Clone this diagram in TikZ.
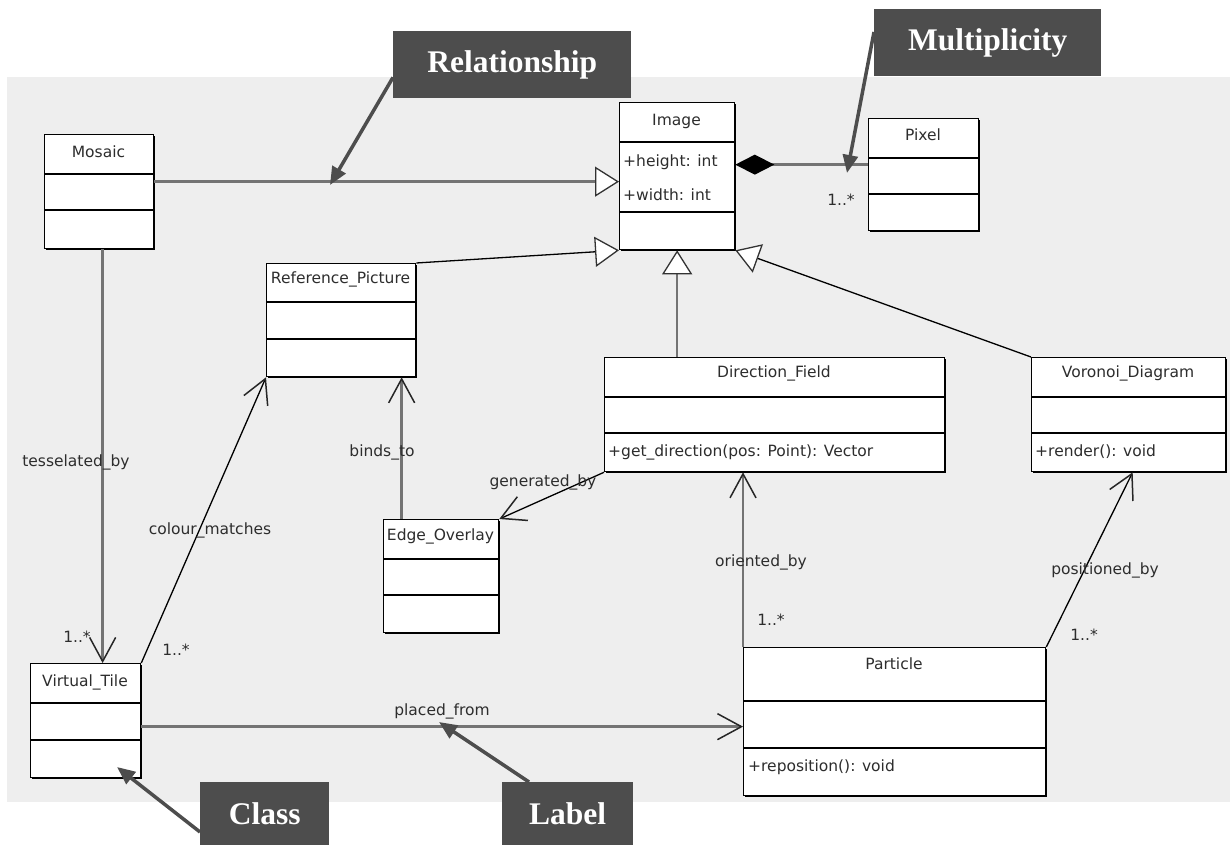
\documentclass[tikz,border=0pt]{standalone}
\usepackage{fontspec}
\setmainfont{Liberation Serif}
\newfontfamily\umlfont{DejaVu Sans}
\usetikzlibrary{arrows.meta,calc,shadows}

\definecolor{canvas}{RGB}{238,238,238}
\definecolor{callout}{RGB}{77,77,77}
\definecolor{umltext}{RGB}{45,45,45}
\definecolor{assoc}{RGB}{115,115,115}

\tikzset{
  umlbox/.style={draw, line width=1.3pt, fill=white, anchor=north west, inner sep=0pt,
    general shadow={fill=black, shadow xshift=1.6pt, shadow yshift=-1.6pt}},
  umlname/.style={font=\umlfont\fontsize{15.5}{18}\selectfont, text=umltext, inner sep=0pt},
  umlmember/.style={umlname, anchor=west},
  rule/.style={line width=1.1pt},
  straightline/.style={draw=assoc, line width=2.6pt},
  slantline/.style={draw=black, line width=1.3pt},
  generalise/.style={-{Triangle[length=24pt,width=30pt,fill=white,color=black!80,line width=1.3pt]}},
  navigable/.style={-{Straight Barb[length=24pt,width=26pt,color=black!85,line width=1.5pt]}},
  composed/.style={{Diamond[length=39pt,width=20pt,fill=black,color=black]}-},
  callbox/.style={fill=callout, text=white, anchor=north west, inner sep=0pt,
    font=\bfseries\fontsize{31.5}{36}\selectfont},
  callarrow/.style={draw=callout, line width=3.5pt, -{Triangle[length=18pt,width=15pt]}},
}

\begin{document}
\begin{tikzpicture}[x=1pt,y=-1pt]
  \useasboundingbox (0,0) rectangle (1230,845);
  % grey drawing area
  \fill[canvas] (7,77) rectangle (1230,802);

  % class boxes
  \node[umlbox, minimum width=109pt, minimum height=114pt] (mosaic) at (44,134) {};
  \draw[rule] ($(mosaic.north west)+(0,40)$) -- ($(mosaic.north east)+(0,40)$);
  \draw[rule] ($(mosaic.north west)+(0,76)$) -- ($(mosaic.north east)+(0,76)$);
  \node[umlname] (mosaic-t) at (98.5,152) {Mosaic};

  \node[umlbox, minimum width=115pt, minimum height=147pt] (img) at (619,102) {};
  \draw[rule] ($(img.north west)+(0,40)$) -- ($(img.north east)+(0,40)$);
  \draw[rule] ($(img.north west)+(0,110)$) -- ($(img.north east)+(0,110)$);
  \node[umlname] (img-t) at (676.5,121) {Image};
  \node[umlmember] (img-a1) at (623,162) {+height: int};
  \node[umlmember] (img-a2) at (623,195) {+width: int};

  \node[umlbox, minimum width=110pt, minimum height=112pt] (pixel) at (868,118) {};
  \draw[rule] ($(pixel.north west)+(0,40)$) -- ($(pixel.north east)+(0,40)$);
  \draw[rule] ($(pixel.north west)+(0,76)$) -- ($(pixel.north east)+(0,76)$);
  \node[umlname] (pixel-t) at (923,135) {Pixel};

  \node[umlbox, minimum width=149pt, minimum height=113pt] (rp) at (266,263) {};
  \draw[rule] ($(rp.north west)+(0,39)$) -- ($(rp.north east)+(0,39)$);
  \draw[rule] ($(rp.north west)+(0,76)$) -- ($(rp.north east)+(0,76)$);
  \node[umlname] (rp-t) at (340.5,279) {Reference\_Picture};

  \node[umlbox, minimum width=340pt, minimum height=114pt] (df) at (604,357) {};
  \draw[rule] ($(df.north west)+(0,40)$) -- ($(df.north east)+(0,40)$);
  \draw[rule] ($(df.north west)+(0,76)$) -- ($(df.north east)+(0,76)$);
  \node[umlname] (df-t) at (774,373) {Direction\_Field};
  \node[umlmember] (df-o1) at (608,452) {+get\_direction(pos: Point): Vector};

  \node[umlbox, minimum width=194pt, minimum height=114pt] (vor) at (1031,357) {};
  \draw[rule] ($(vor.north west)+(0,40)$) -- ($(vor.north east)+(0,40)$);
  \draw[rule] ($(vor.north west)+(0,76)$) -- ($(vor.north east)+(0,76)$);
  \node[umlname] (vor-t) at (1128,373) {Voronoi\_Diagram};
  \node[umlmember] (vor-o1) at (1035,452) {+render(): void};

  \node[umlbox, minimum width=115pt, minimum height=113pt] (eo) at (383,519) {};
  \draw[rule] ($(eo.north west)+(0,40)$) -- ($(eo.north east)+(0,40)$);
  \draw[rule] ($(eo.north west)+(0,76)$) -- ($(eo.north east)+(0,76)$);
  \node[umlname] (eo-t) at (440.5,536) {Edge\_Overlay};

  \node[umlbox, minimum width=110pt, minimum height=114pt] (vt) at (30,663) {};
  \draw[rule] ($(vt.north west)+(0,40)$) -- ($(vt.north east)+(0,40)$);
  \draw[rule] ($(vt.north west)+(0,77)$) -- ($(vt.north east)+(0,77)$);
  \node[umlname] (vt-t) at (85,682) {Virtual\_Tile};

  \node[umlbox, minimum width=302pt, minimum height=148pt] (part) at (743,647) {};
  \draw[rule] ($(part.north west)+(0,54)$) -- ($(part.north east)+(0,54)$);
  \draw[rule] ($(part.north west)+(0,101)$) -- ($(part.north east)+(0,101)$);
  \node[umlname] (part-t) at (894,664) {Particle};
  \node[umlmember] (part-o1) at (748,767) {+reposition(): void};

  % generalisations
  \draw[straightline, generalise] ($(mosaic.east)+(0,-10)$) -- ($(img.west |- mosaic.east)+(0,-10)$);
  \draw[slantline, generalise] (rp.north east) -- (img.south west);
  \draw[straightline, generalise] (df.north -| img.south) -- (img.south);
  \draw[slantline, generalise] (vor.north west) -- (img.south east);

  % composition
  \draw[straightline, composed] ($(img.east)+(0,-11.5)$) -- ($(img.east -| pixel.west)+(0,-11.5)$);
  \node[umlname] (pixel-m) at (841,200) {1..*};

  % associations
  \draw[straightline, navigable] ($(mosaic.south)+(3.5,0)$) -- ($(mosaic.south |- vt.north)+(3.5,0)$);
  \node[umlname] (tess-l) at (76,462) {tesselated\_by};
  \node[umlname] (tess-m) at (77,637) {1..*};

  \draw[slantline, navigable] (vt.north east) -- (rp.south west);
  \node[umlname] (colour-l) at (210,530) {colour\_matches};
  \node[umlname] (colour-m) at (176,650) {1..*};

  \draw[straightline, navigable] ($(eo.north)+(-39.5,0)$) -- ($(eo.north |- rp.south)+(-39.5,0)$);
  \node[umlname] (binds-l) at (382,452) {binds\_to};

  \draw[slantline, navigable] (df.south west) -- (eo.north east);
  \node[umlname] (gen-l) at (543,482) {generated\_by};

  \draw[straightline, navigable] (part.north west) -- (part.north west |- df.south);
  \node[umlname] (orient-l) at (761,562) {oriented\_by};
  \node[umlname] (orient-m) at (771,620) {1..*};

  \draw[slantline, navigable] (part.north east) -- ($(vor.south)+(4,0)$);
  \node[umlname] (pos-l) at (1105,570) {positioned\_by};
  \node[umlname] (pos-m) at (1084,635) {1..*};

  \draw[straightline, navigable] ($(vt.east)+(0,6)$) -- ($(vt.east -| part.west)+(0,6)$);
  \node[umlname] (placed-l) at (442,711) {placed\_from};

  % callouts
  \node[callbox, minimum width=238pt, minimum height=67pt] (rel) at (393,31) {Relationship};
  \coordinate (rel-tip) at (330,185);
  \draw[callarrow] ($(rel.south west)+(0,-21)$) -- (rel-tip);

  \node[callbox, minimum width=227pt, minimum height=67pt] (mult) at (874,9) {Multiplicity};
  \coordinate (mult-tip) at (847,173);
  \draw[callarrow] ($(mult.north west)+(0,23)$) -- (mult-tip);

  \node[callbox, minimum width=129pt, minimum height=63pt] (cls) at (200,782) {Class};
  \coordinate (cls-tip) at (117,767);
  \draw[callarrow] ($(cls.north west)+(0,50)$) -- (cls-tip);

  \node[callbox, minimum width=131pt, minimum height=63pt] (lbl) at (502,782) {Label};
  \coordinate (lbl-tip) at (439,722);
  \draw[callarrow] ($(lbl.north west)+(27,0)$) -- (lbl-tip);
\end{tikzpicture}
\end{document}
